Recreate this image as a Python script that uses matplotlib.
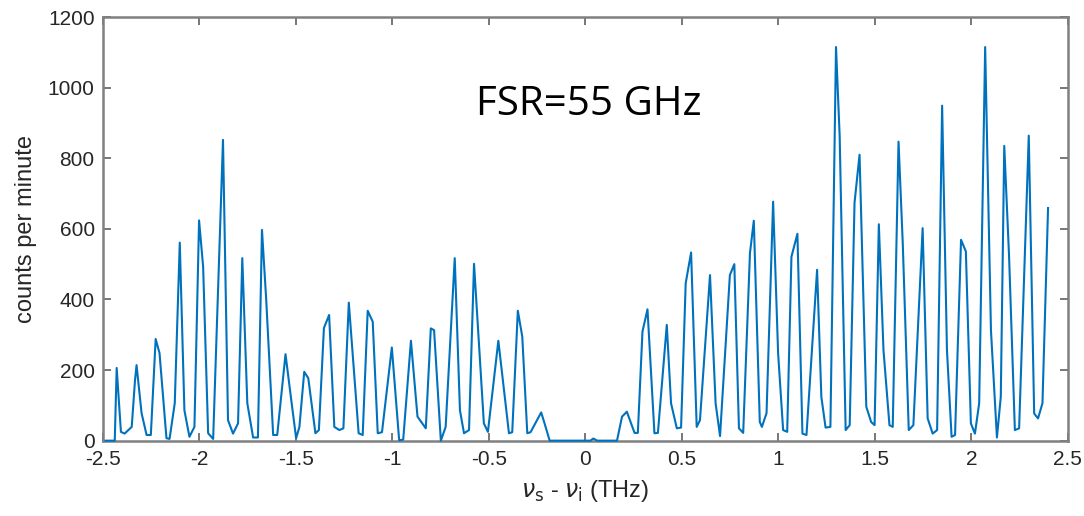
import matplotlib
matplotlib.use('Agg')
import matplotlib.pyplot as plt

plt.rcParams['font.family'] = ['Liberation Sans', 'DejaVu Sans']

# frequência (THz) e contagens
freq = [-2.486, -2.439, -2.429, -2.407, -2.388, -2.351, -2.334, -2.326, -2.300, -2.274,
        -2.252, -2.227, -2.207, -2.171, -2.155, -2.128, -2.102, -2.078, -2.052, -2.026,
        -2.002, -1.981, -1.955, -1.929, -1.878, -1.852, -1.826, -1.800, -1.778, -1.752,
        -1.722, -1.697, -1.676, -1.654, -1.618, -1.597, -1.554, -1.530, -1.499, -1.482,
        -1.457, -1.436, -1.399, -1.381, -1.355, -1.328, -1.301, -1.275, -1.254, -1.226,
        -1.175, -1.154, -1.128, -1.102, -1.076, -1.054, -1.003, -0.965, -0.944, -0.904,
        -0.870, -0.827, -0.801, -0.784, -0.749, -0.724, -0.677, -0.650, -0.629, -0.603,
        -0.577, -0.526, -0.505, -0.451, -0.396, -0.379, -0.350, -0.327, -0.301, -0.284,
        -0.229, -0.212, -0.185, 0.026, 0.041, 0.062, 0.164, 0.190, 0.215, 0.255,
        0.272, 0.296, 0.322, 0.358, 0.376, 0.422, 0.444, 0.474, 0.496, 0.520,
        0.548, 0.577, 0.594, 0.646, 0.675, 0.698, 0.749, 0.772, 0.796, 0.818,
        0.853, 0.873, 0.904, 0.915, 0.939, 0.973, 0.999, 1.025, 1.046, 1.068,
        1.099, 1.125, 1.146, 1.201, 1.223, 1.245, 1.270, 1.299, 1.318, 1.349,
        1.370, 1.395, 1.421, 1.456, 1.481, 1.499, 1.521, 1.545, 1.576, 1.593,
        1.623, 1.645, 1.676, 1.700, 1.748, 1.774, 1.800, 1.823, 1.849, 1.874,
        1.898, 1.916, 1.947, 1.972, 1.998, 2.019, 2.041, 2.072, 2.102, 2.133,
        2.153, 2.171, 2.196, 2.226, 2.248, 2.298, 2.326, 2.346, 2.369, 2.398]

contagens = [0, 0, 206, 25, 20, 39, 171, 214, 78, 16,
             16, 288, 248, 7, 5, 106, 561, 86, 11, 39,
             624, 493, 21, 5, 852, 58, 20, 49, 517, 106,
             9, 9, 597, 399, 16, 16, 245, 140, 7, 39,
             195, 177, 21, 30, 319, 356, 39, 30, 35, 391,
             21, 16, 368, 337, 21, 24, 264, 1, 3, 283,
             68, 35, 318, 313, 0, 39, 517, 86, 21, 30,
             501, 49, 25, 283, 21, 24, 368, 295, 21, 24,
             80, 50, 0, 0, 6, 0, 0, 68, 82, 22,
             22, 309, 372, 21, 22, 328, 106, 35, 37, 446,
             533, 39, 58, 469, 106, 13, 469, 500, 35, 22,
             531, 623, 53, 39, 78, 677, 247, 30, 25, 521,
             586, 20, 16, 484, 124, 37, 39, 1115, 862, 30,
             44, 674, 810, 96, 53, 44, 613, 257, 44, 39,
             847, 559, 30, 44, 602, 63, 20, 30, 949, 257,
             11, 16, 569, 536, 49, 20, 106, 1115, 313, 9,
             124, 835, 521, 30, 35, 864, 77, 63, 106, 659]

xticks = [-2.5, -2, -1.5, -1, -0.5, 0, 0.5, 1, 1.5, 2, 2.5]
xticklabels = ['-2.5', '-2', '-1.5', '-1', '-0.5', '0', '0.5', '1', '1.5', '2', '2.5']
yticks = [0, 200, 400, 600, 800, 1000, 1200]

fig = plt.figure(figsize=(10.84, 5.16), dpi=100)
ax = fig.add_axes([0.095, 0.146, 0.890, 0.821])

ax.plot(freq, contagens, color='#0072BD', linewidth=1.5, clip_on=False, zorder=3)

ax.set_xlim(-2.5, 2.5)
ax.set_ylim(0, 1200)
ax.set_xticks(xticks)
ax.set_xticklabels(xticklabels)
ax.set_yticks(yticks)

for s in ax.spines.values():
    s.set_color('#808080')
    s.set_linewidth(1.8)

ax.tick_params(direction='in', length=6, width=1.2, color='#606060',
               labelsize=15, labelcolor='#262626', top=True, right=True)
ax.tick_params(axis='x', pad=7)
ax.tick_params(axis='y', pad=6)

ax.set_ylabel('counts per minute', fontsize=17, color='#262626', labelpad=8)
ax.set_xlabel(r'$\nu_{\rm s}$ - $\nu_{\rm i}$ (THz)', fontsize=17, color='#262626', labelpad=6)

# anotação do FSR
ax.text(0.02, 952, 'FSR=55 GHz', fontsize=29, ha='center', va='center',
        family='Open Sans', color='black')

plt.savefig('out.png', dpi=100)
plt.close()
